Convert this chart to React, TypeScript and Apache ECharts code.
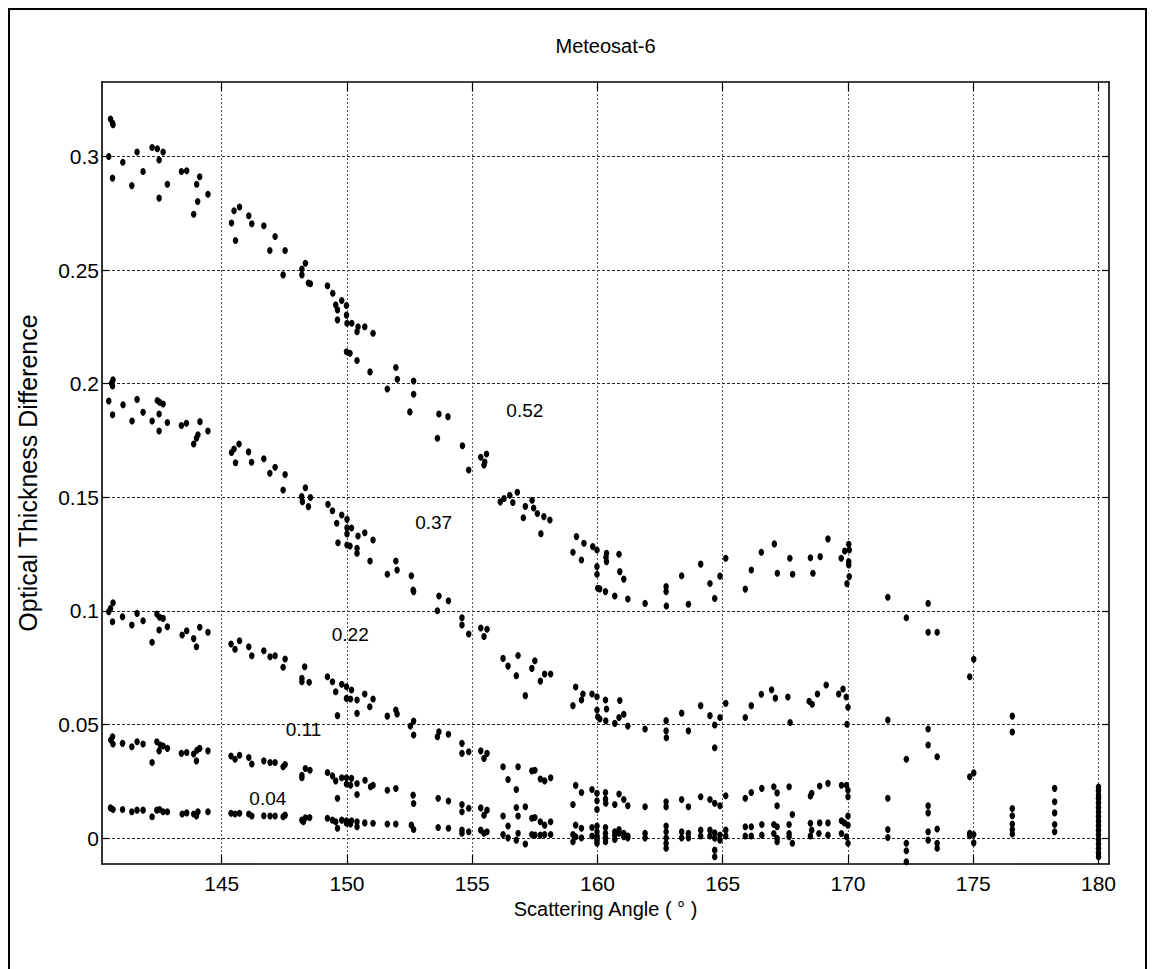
import React, { useEffect, useRef } from "react";
import * as echarts from "echarts";

type Pt = [number, number];

const chartTitle = "Meteosat-6";
const xAxisName = "Scattering Angle ( ° )";
const yAxisName = "Optical Thickness Difference";
const xTicks = [145, 150, 155, 160, 165, 170, 175, 180];
const yTicks = [0, 0.05, 0.1, 0.15, 0.2, 0.25, 0.3];
const xMin = 140.22;
const xMax = 180.42;
const yMin = -0.0114;
const yMax = 0.3328;

const curveLabels = ["0.52", "0.37", "0.22", "0.11", "0.04"];
const labelAngles = [157.1, 153.46, 150.13, 148.27, 146.84];
const labelValues = [0.188, 0.1387, 0.0894, 0.0478, 0.0173];

const tau052: Pt[] = [
  [140.49, 0.3], [140.56, 0.3165], [140.64, 0.3147], [140.66, 0.314], [140.64, 0.2905], [141.05, 0.2975],
  [141.41, 0.2872], [141.62, 0.302], [141.86, 0.2934], [142.22, 0.304], [142.43, 0.3034], [142.5, 0.2985],
  [142.5, 0.2817], [142.66, 0.302], [142.83, 0.2878], [143.39, 0.2934], [143.6, 0.2937], [143.88, 0.2746],
  [144.0, 0.2878], [144.04, 0.2802], [144.12, 0.2911], [144.45, 0.2834],
  [145.39, 0.2707], [145.49, 0.2761], [145.55, 0.263], [145.71, 0.2778], [146.08, 0.2739], [146.2, 0.2704],
  [146.68, 0.2695], [146.92, 0.2586], [147.13, 0.2648], [147.45, 0.2479], [147.53, 0.2586], [148.2, 0.2505],
  [148.2, 0.2479], [148.34, 0.253], [148.46, 0.2443], [148.54, 0.244],
  [149.22, 0.2431], [149.43, 0.2398], [149.55, 0.2347], [149.62, 0.2325], [149.62, 0.2281], [149.79, 0.2366],
  [149.98, 0.2344], [149.98, 0.2302], [150.0, 0.2266], [150.19, 0.2266], [150.4, 0.2229], [150.44, 0.2251],
  [150.71, 0.2251], [151.04, 0.2222], [149.98, 0.2141], [150.12, 0.2134], [150.4, 0.2102], [150.92, 0.2052],
  [151.61, 0.1977], [151.95, 0.2071], [152.01, 0.202], [152.51, 0.1876], [152.66, 0.2012], [152.66, 0.1954],
  [153.61, 0.176], [153.67, 0.1867], [154.03, 0.1855], [154.61, 0.1727], [154.86, 0.162], [155.34, 0.1676],
  [155.47, 0.1642], [155.57, 0.1691], [155.5, 0.1655],
  [156.12, 0.148], [156.27, 0.1495], [156.5, 0.1509], [156.8, 0.1522], [156.62, 0.1477], [157.04, 0.141],
  [157.12, 0.146], [157.39, 0.1487], [157.45, 0.1453], [157.6, 0.1429], [157.74, 0.134], [157.86, 0.1415],
  [158.1, 0.14],
  [159.02, 0.1258], [159.16, 0.1327], [159.36, 0.1224], [159.46, 0.1298], [159.81, 0.1283], [159.98, 0.1268],
  [159.98, 0.1195], [159.98, 0.1161], [160.01, 0.11], [160.09, 0.1097], [160.32, 0.1085], [160.36, 0.1254],
  [160.36, 0.1217], [160.34, 0.1236], [160.69, 0.1066], [160.86, 0.1249], [160.89, 0.1173], [161.05, 0.114],
  [161.21, 0.1052], [161.9, 0.1033], [162.74, 0.1107], [162.74, 0.1085], [162.75, 0.1022], [163.36, 0.1155],
  [163.63, 0.1029], [164.12, 0.1206], [164.49, 0.1121], [164.68, 0.1055], [164.89, 0.1153], [165.12, 0.1232],
  [165.9, 0.1096], [166.14, 0.118], [166.54, 0.1258], [167.06, 0.1295], [167.18, 0.1166], [167.68, 0.1232],
  [167.79, 0.1161], [168.5, 0.1234], [168.6, 0.1166], [168.89, 0.1239], [169.2, 0.1317], [169.73, 0.1232],
  [169.87, 0.1264], [170.03, 0.1293], [170.05, 0.1268], [170.03, 0.1217], [170.03, 0.1202], [170.05, 0.1151],
  [169.96, 0.112],
  [171.59, 0.106], [172.33, 0.097], [173.2, 0.1033], [173.2, 0.0906], [173.56, 0.0906], [174.86, 0.071],
  [175.02, 0.0787], [176.56, 0.0537], [176.56, 0.0467],
  [180.0, 0.0225], [180.0, 0.021], [180.0, 0.019],
];

const tau037: Pt[] = [
  [140.49, 0.1924], [140.6, 0.2002], [140.66, 0.2017], [140.64, 0.199], [140.64, 0.1863], [141.06, 0.1907],
  [141.42, 0.1836], [141.62, 0.1931], [141.86, 0.1874], [142.22, 0.1836], [142.43, 0.1926], [142.52, 0.1918],
  [142.66, 0.1911], [142.5, 0.1867], [142.5, 0.1792], [142.83, 0.1829], [143.39, 0.1816], [143.59, 0.1826],
  [143.88, 0.1735], [143.99, 0.176], [144.05, 0.1775], [144.13, 0.1833], [144.45, 0.1792],
  [145.39, 0.1697], [145.49, 0.1713], [145.69, 0.1735], [145.55, 0.1652], [146.07, 0.17], [146.19, 0.1654],
  [146.68, 0.167], [146.92, 0.1606], [147.13, 0.1632], [147.45, 0.1532], [147.53, 0.16], [148.19, 0.1503],
  [148.22, 0.1481], [148.34, 0.1542], [148.46, 0.1459], [148.54, 0.1499], [149.24, 0.1469], [149.42, 0.1441],
  [149.59, 0.1386], [149.64, 0.13], [149.79, 0.1422], [150.0, 0.1403], [150.0, 0.1366], [150.0, 0.1339],
  [150.0, 0.129], [150.18, 0.1365], [150.12, 0.1286], [150.4, 0.1276], [150.4, 0.1254], [150.44, 0.133],
  [150.71, 0.1344], [151.04, 0.1312], [150.92, 0.122], [151.61, 0.1161], [151.95, 0.122], [152.0, 0.118],
  [152.57, 0.1155], [152.64, 0.1092], [152.66, 0.1085],
  [153.61, 0.1001], [153.67, 0.1066], [154.05, 0.1045], [154.59, 0.097], [154.59, 0.0938], [154.86, 0.0898],
  [155.34, 0.0925], [155.59, 0.0919], [155.47, 0.0887], [156.23, 0.0791], [156.43, 0.0757], [156.83, 0.0804],
  [156.76, 0.0715], [157.12, 0.0627], [157.38, 0.0747], [157.5, 0.0781], [157.72, 0.0691], [157.89, 0.0722],
  [158.13, 0.0722], [159.02, 0.0583], [159.13, 0.0665], [159.36, 0.0608], [159.42, 0.0634], [159.78, 0.0634],
  [159.98, 0.0622], [159.98, 0.0564], [160.01, 0.0534], [160.09, 0.0524], [160.32, 0.0608], [160.36, 0.0568],
  [160.33, 0.0516], [160.69, 0.0505], [160.86, 0.0531], [160.89, 0.0606], [161.05, 0.0545], [161.21, 0.0493],
  [161.9, 0.048], [162.74, 0.0517], [162.74, 0.0472], [162.75, 0.0442], [163.36, 0.055], [163.63, 0.0472],
  [164.12, 0.0583], [164.49, 0.0539], [164.68, 0.0498], [164.68, 0.0398], [164.89, 0.0531], [165.12, 0.0593],
  [165.9, 0.0531], [166.14, 0.0583], [166.54, 0.0633], [166.95, 0.0653], [167.1, 0.0616], [167.6, 0.0621],
  [167.69, 0.0509], [168.45, 0.0602], [168.57, 0.0589], [168.78, 0.0634], [169.13, 0.0674], [169.63, 0.0634],
  [169.8, 0.0656], [169.93, 0.0621], [170.0, 0.0576], [169.96, 0.0501],
  [171.59, 0.052], [172.33, 0.0347], [173.2, 0.048], [173.2, 0.041], [173.56, 0.0358], [174.86, 0.027],
  [175.02, 0.0287],
  [180.0, 0.0175], [180.0, 0.0155], [180.0, 0.0135],
];

const tau022: Pt[] = [
  [140.49, 0.0996], [140.56, 0.1011], [140.66, 0.1036], [140.64, 0.0952], [141.04, 0.0974], [141.41, 0.0938],
  [141.62, 0.0989], [141.86, 0.0957], [142.22, 0.0862], [142.41, 0.0986], [142.52, 0.0972], [142.5, 0.0916],
  [142.66, 0.0967], [142.83, 0.093], [143.42, 0.0894], [143.6, 0.0913], [143.88, 0.0878], [143.99, 0.0842],
  [144.12, 0.0928], [144.45, 0.0906],
  [145.37, 0.0854], [145.53, 0.0831], [145.71, 0.0869], [146.08, 0.0842], [146.2, 0.0803], [146.68, 0.0825],
  [146.93, 0.0798], [147.13, 0.0803], [147.45, 0.0752], [147.53, 0.0788], [148.2, 0.0703], [148.2, 0.0688],
  [148.31, 0.0754], [148.49, 0.0686], [149.22, 0.071], [149.42, 0.0688], [149.55, 0.0644], [149.62, 0.0539],
  [149.79, 0.0677], [149.98, 0.0666], [149.98, 0.0615], [150.18, 0.0652], [150.14, 0.0612], [150.4, 0.0608],
  [150.4, 0.0549], [150.71, 0.0634], [150.91, 0.0578], [151.04, 0.0612], [151.61, 0.0537], [151.95, 0.0564],
  [152.0, 0.0546], [152.53, 0.0493], [152.66, 0.0515], [152.66, 0.0454], [153.61, 0.0446], [153.67, 0.0468],
  [154.05, 0.0457], [154.59, 0.0417], [154.59, 0.0373], [154.86, 0.038], [155.34, 0.0384], [155.47, 0.0351],
  [155.59, 0.0373], [156.23, 0.0314], [156.43, 0.0258], [156.76, 0.0214], [156.83, 0.0314], [157.38, 0.0296],
  [157.5, 0.0299], [157.72, 0.026], [157.89, 0.0252], [158.13, 0.0266], [159.02, 0.0148], [159.13, 0.0232],
  [159.36, 0.0201], [159.78, 0.0214], [159.98, 0.0197], [159.98, 0.0164], [159.98, 0.0126], [160.32, 0.0201],
  [160.32, 0.0172], [160.33, 0.0153], [160.69, 0.0148], [160.86, 0.0194], [161.05, 0.017], [161.21, 0.0142],
  [161.9, 0.0138], [162.74, 0.016], [162.74, 0.0138], [163.36, 0.017], [163.63, 0.0138], [164.12, 0.0182],
  [164.49, 0.017], [164.68, 0.0153], [164.89, 0.0142], [165.12, 0.0186], [165.9, 0.0175], [166.14, 0.0201],
  [166.56, 0.0219], [167.04, 0.0226], [167.17, 0.0199], [167.17, 0.0142], [167.65, 0.0226], [167.78, 0.0104],
  [168.5, 0.0185], [168.55, 0.0197], [168.87, 0.0229], [169.2, 0.0241], [169.74, 0.0233], [169.94, 0.0233],
  [170.0, 0.0211], [170.0, 0.0182],
  [171.59, 0.0175], [173.2, 0.0142], [173.2, 0.0111], [176.56, 0.013], [178.25, 0.0219], [178.25, 0.016],
  [180.0, 0.0115], [180.0, 0.0095], [180.0, 0.0075],
];

const tau011: Pt[] = [
  [140.57, 0.0432], [140.64, 0.0446], [140.66, 0.0414], [141.04, 0.0417], [141.41, 0.0402], [141.62, 0.0424],
  [141.86, 0.0414], [142.22, 0.0333], [142.41, 0.0424], [142.5, 0.0384], [142.55, 0.041], [142.66, 0.0405],
  [142.83, 0.0395], [143.39, 0.0373], [143.6, 0.0377], [143.88, 0.037], [143.99, 0.034], [144.01, 0.0387],
  [144.12, 0.0395], [144.45, 0.0384],
  [145.37, 0.0361], [145.53, 0.0347], [145.71, 0.0365], [146.08, 0.0355], [146.2, 0.0326], [146.68, 0.034],
  [146.93, 0.0333], [147.13, 0.0333], [147.45, 0.0314], [147.53, 0.0324], [148.2, 0.0277], [148.2, 0.0266],
  [148.34, 0.0306], [148.52, 0.0299], [149.22, 0.0289], [149.42, 0.0274], [149.55, 0.0252], [149.62, 0.0175],
  [149.79, 0.0266], [149.98, 0.0266], [149.98, 0.0238], [150.18, 0.0263], [150.14, 0.0233], [150.4, 0.024],
  [150.4, 0.0192], [150.72, 0.0255], [150.94, 0.0226], [151.04, 0.0233], [151.61, 0.0211], [151.95, 0.0218],
  [152.64, 0.0189], [152.66, 0.0152], [153.64, 0.0175], [154.05, 0.0163], [154.59, 0.0148], [154.59, 0.0116],
  [154.86, 0.0131], [155.34, 0.0133], [155.47, 0.0101], [155.59, 0.0123], [156.23, 0.0097], [156.43, 0.0053],
  [156.76, 0.0135], [156.83, 0.0097], [157.12, 0.0138], [157.38, 0.0087], [157.5, 0.0091], [157.72, 0.0072],
  [157.89, 0.0057], [158.13, 0.0072], [159.02, 0.0016], [159.13, 0.0057], [159.36, 0.0043], [159.78, 0.0047],
  [159.98, 0.0053], [159.98, 0.0028], [159.98, 0.0001], [160.32, 0.0047], [160.32, 0.0021], [160.69, 0.0028],
  [160.86, 0.0038], [161.05, 0.0021], [161.21, 0.0009], [161.9, 0.0021], [162.74, 0.0053], [162.74, 0.0028],
  [163.36, 0.0028], [163.63, 0.0021], [164.12, 0.0035], [164.49, 0.0035], [164.68, 0.0023], [164.89, 0.0013],
  [165.12, 0.0035], [165.9, 0.005], [166.14, 0.005], [166.56, 0.006], [167.04, 0.006], [167.17, 0.005],
  [167.65, 0.006], [167.65, 0.002], [168.5, 0.0065], [168.55, 0.0035], [168.87, 0.0067], [169.2, 0.0067],
  [169.74, 0.0076], [169.86, 0.0067], [170.0, 0.0097], [170.0, 0.0057],
  [171.59, 0.0038], [172.33, -0.0023], [173.2, 0.0028], [173.56, 0.004], [174.86, 0.0021], [175.02, 0.0016],
  [176.56, 0.0098], [176.56, 0.0062], [178.25, 0.0111], [178.25, 0.006],
  [180.0, 0.0055], [180.0, 0.0035], [180.0, 0.0015],
];

const tau004: Pt[] = [
  [140.56, 0.0133], [140.66, 0.0126], [141.04, 0.0126], [141.41, 0.0116], [141.62, 0.0123], [141.86, 0.0123],
  [142.22, 0.0094], [142.41, 0.0123], [142.52, 0.0126], [142.66, 0.0116], [142.83, 0.0116], [143.42, 0.0106],
  [143.6, 0.0111], [143.88, 0.0106], [143.99, 0.0097], [144.05, 0.0116], [144.45, 0.0116],
  [145.37, 0.0109], [145.53, 0.0106], [145.71, 0.0109], [146.08, 0.0106], [146.2, 0.0097], [146.68, 0.0098],
  [146.93, 0.0097], [147.13, 0.0097], [147.45, 0.0094], [147.53, 0.0101], [148.2, 0.0079], [148.26, 0.0072],
  [148.34, 0.0089], [148.51, 0.0091], [149.22, 0.0087], [149.42, 0.0079], [149.55, 0.0072], [149.62, 0.0043],
  [149.79, 0.0079], [149.98, 0.0076], [149.98, 0.0065], [150.18, 0.0076], [150.14, 0.0062], [150.4, 0.0072],
  [150.4, 0.005], [150.71, 0.0067], [151.04, 0.0065], [151.61, 0.0062], [151.95, 0.0062], [152.57, 0.0057],
  [152.66, 0.0038], [153.64, 0.0047], [154.05, 0.0043], [154.59, 0.0035], [154.59, 0.0021], [154.86, 0.0028],
  [155.34, 0.0035], [155.47, 0.0021], [155.59, 0.0028], [156.23, 0.0016], [156.43, 0.0001], [156.76, -0.0009],
  [156.83, 0.0021], [157.12, -0.0026], [157.38, 0.0016], [157.5, 0.0013], [157.72, 0.0013], [157.89, 0.0016],
  [158.13, 0.0016], [159.02, -0.0016], [159.13, 0.0006], [159.36, 0.0001], [159.78, 0.0009], [159.98, 0.0009],
  [159.98, -0.0009], [159.98, -0.0023], [160.32, 0.0001], [160.32, -0.0016], [160.69, 0.0013], [160.69, -0.0006],
  [160.86, 0.0021], [161.05, 0.0006], [161.21, 0.0001], [161.9, 0.0001], [162.74, 0.0001], [162.74, -0.0023],
  [162.74, -0.0045], [163.36, 0.0001], [163.63, 0.0001], [164.12, 0.0009], [164.49, 0.0009], [164.68, -0.0001],
  [164.68, -0.0053], [164.68, -0.0082], [164.89, -0.0009], [165.12, 0.0009], [165.9, 0.0009], [166.14, 0.0009],
  [166.56, 0.0013], [167.04, 0.002], [167.17, -0.0001], [167.17, -0.0016], [167.65, 0.0006], [167.78, -0.0023],
  [168.5, 0.0009], [168.84, 0.002], [169.2, 0.0013], [169.74, 0.002], [169.94, 0.0006], [170.0, -0.0023],
  [171.59, 0.0003], [172.33, -0.0056], [172.33, -0.0104], [173.2, -0.0009], [173.56, -0.0023], [173.56, -0.0045],
  [174.86, 0.001], [175.02, -0.0021], [176.56, 0.0038], [176.56, 0.0018], [178.25, 0.0028],
  [180.0, -0.0005], [180.0, -0.0025], [180.0, -0.0045], [180.0, -0.0065], [180.0, -0.0082],
];

const bands: { name: string; data: Pt[] }[] = [
  { name: "0.52", data: tau052 },
  { name: "0.37", data: tau037 },
  { name: "0.22", data: tau022 },
  { name: "0.11", data: tau011 },
  { name: "0.04", data: tau004 },
];

const FONT = "'Liberation Sans', Arial, Helvetica, sans-serif";

const GRID = { left: 102, top: 82, width: 1007, height: 782 };

export default function App() {
  const ref = useRef<HTMLDivElement>(null);
  useEffect(() => {
    if (!ref.current) return;
    const chart = echarts.init(ref.current, null, { renderer: "svg" });
    const axisLine = { show: true, onZero: false, lineStyle: { color: "#000", width: 1.6 } };
    const tickStyle = { color: "#000", width: 1.2 };
    const option: any = {
      animation: false,
      backgroundColor: "#fff",
      grid: { ...GRID, containLabel: false },
      graphic: [
        {
          type: "rect",
          shape: { x: 9, y: 9, width: 1137, height: 1000 },
          style: { fill: "none", stroke: "#000", lineWidth: 2 },
          silent: true,
        },
        {
          type: "text",
          x: GRID.left + GRID.width / 2,
          y: 46,
          style: {
            text: chartTitle,
            font: `20px ${FONT}`,
            fill: "#000",
            textAlign: "center",
            textVerticalAlign: "middle",
          },
        },
      ],
      xAxis: [
        {
          type: "value",
          position: "bottom",
          min: xMin,
          max: xMax,
          axisLine,
          axisTick: { show: true, inside: true, length: 9, customValues: xTicks, lineStyle: tickStyle },
          axisLabel: {
            customValues: xTicks,
            color: "#000",
            fontFamily: FONT,
            fontSize: 21,
            margin: 9,
            formatter: (v: number) => String(v),
          },
          splitLine: { show: true, lineStyle: { color: "#555", type: [2, 2], width: 1 } },
          name: xAxisName,
          nameLocation: "middle",
          nameGap: 32,
          nameTextStyle: { color: "#000", fontFamily: FONT, fontSize: 20 },
        },
        {
          type: "value",
          position: "top",
          min: xMin,
          max: xMax,
          axisLine,
          axisTick: { show: true, inside: true, length: 9, customValues: xTicks, lineStyle: tickStyle },
          axisLabel: { show: false },
          splitLine: { show: false },
        },
      ],
      yAxis: [
        {
          type: "value",
          position: "left",
          min: yMin,
          max: yMax,
          axisLine,
          axisTick: { show: true, inside: true, length: 7, customValues: yTicks, lineStyle: tickStyle },
          axisLabel: {
            customValues: yTicks,
            color: "#000",
            fontFamily: FONT,
            fontSize: 21,
            margin: 3,
            formatter: (v: number) => String(v),
          },
          splitLine: { show: true, lineStyle: { color: "#222", type: [3, 2], width: 1 } },
          name: yAxisName,
          nameLocation: "middle",
          nameGap: 62,
          nameRotate: 90,
          nameTextStyle: { color: "#000", fontFamily: FONT, fontSize: 25 },
        },
        {
          type: "value",
          position: "right",
          min: yMin,
          max: yMax,
          axisLine,
          axisTick: { show: true, inside: true, length: 7, customValues: yTicks, lineStyle: tickStyle },
          axisLabel: { show: false },
          splitLine: { show: false },
        },
      ],
      series: [
        ...bands.map((b) => ({
          type: "scatter",
          name: b.name,
          xAxisIndex: 0,
          yAxisIndex: 0,
          data: b.data,
          symbol: "circle",
          symbolSize: [5.5, 7],
          itemStyle: { color: "#000", opacity: 1 },
          silent: true,
          z: 3,
        })),
        {
          type: "scatter",
          name: "labels",
          data: curveLabels.map((t, i) => ({ name: t, value: [labelAngles[i], labelValues[i]] })),
          symbolSize: 1,
          itemStyle: { color: "rgba(0,0,0,0)", opacity: 1 },
          label: {
            show: true,
            position: "inside",
            formatter: (p: any) => p.name,
            color: "#000",
            opacity: 1,
            fontFamily: FONT,
            fontSize: 19,
          },
          silent: true,
          z: 4,
        },
      ],
    };
    chart.setOption(option);
    return () => chart.dispose();
  }, []);
  return (
    <div
      ref={ref}
      style={{ position: "absolute", left: 0, top: 0, width: 1153, height: 969, background: "#fff" }}
    />
  );
}
